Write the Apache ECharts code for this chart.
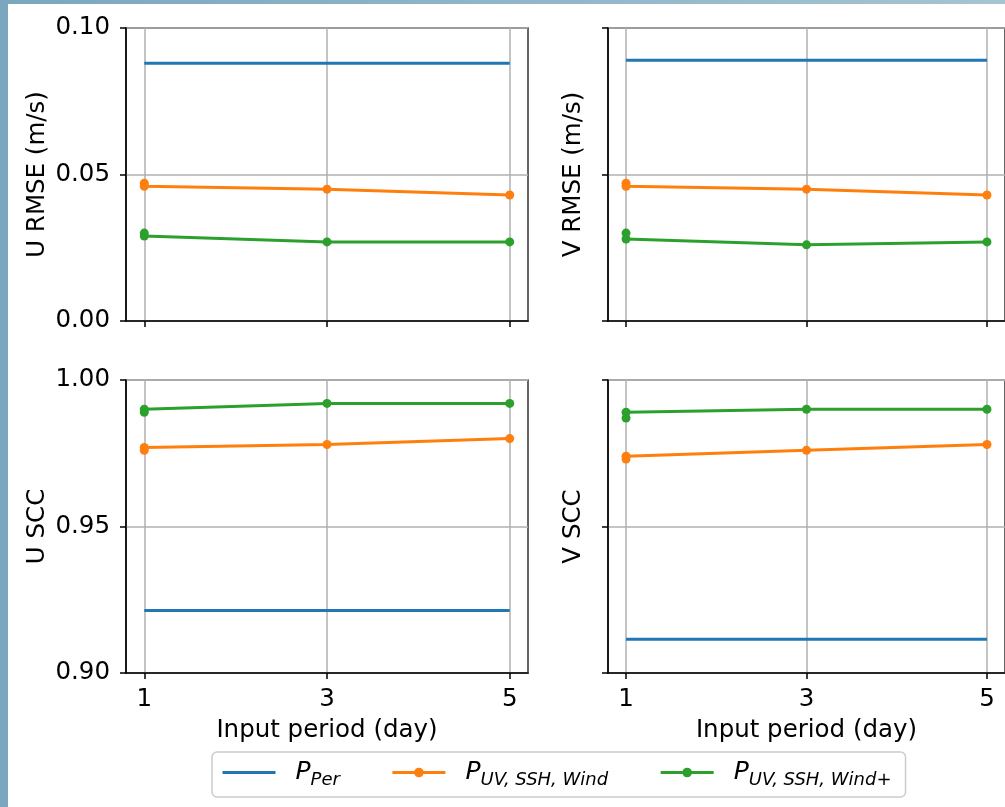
<!DOCTYPE html>
<html>
<head>
<meta charset="utf-8">
<script src="https://cdn.jsdelivr.net/npm/echarts@6/dist/echarts.min.js"></script>
<style>
html, body { margin: 0; padding: 0; background: #ffffff; }
#chart { width: 1005px; height: 807px; }
</style>
</head>
<body>
<div id="chart"></div>
<script>
// ---- data ----
const inputDays = [1, 3, 5];
const xTickLabels = [1, 3, 5];
const rmseTicks = [0.00, 0.05, 0.10];
const sccTicks = [0.90, 0.95, 1.00];

const seriesNames = ['P_Per', 'P_UV,SSH,Wind', 'P_UV,SSH,Wind+'];

// U RMSE (m/s)
const uRmsePer = [0.088, 0.088, 0.088];
const uRmseUV = [0.046, 0.045, 0.043];
const uRmseUVExtraAt1 = 0.047;
const uRmseUVW = [0.029, 0.027, 0.027];
const uRmseUVWExtraAt1 = 0.030;

// V RMSE (m/s)
const vRmsePer = [0.089, 0.089, 0.089];
const vRmseUV = [0.046, 0.045, 0.043];
const vRmseUVExtraAt1 = 0.047;
const vRmseUVW = [0.028, 0.026, 0.027];
const vRmseUVWExtraAt1 = 0.030;

// U SCC
const uSccPer = [0.9213, 0.9213, 0.9213];
const uSccUV = [0.977, 0.978, 0.980];
const uSccUVExtraAt1 = 0.976;
const uSccUVW = [0.990, 0.992, 0.992];
const uSccUVWExtraAt1 = 0.989;

// V SCC
const vSccPer = [0.9115, 0.9115, 0.9115];
const vSccUV = [0.974, 0.976, 0.978];
const vSccUVExtraAt1 = 0.973;
const vSccUVW = [0.989, 0.990, 0.990];
const vSccUVWExtraAt1 = 0.987;

// ---- styling ----
const FONT = 'DejaVu Sans';
const FS = 24.5;
const COLORS = ['#1f77b4', '#ff7f0e', '#2ca02c'];

const chart = echarts.init(document.getElementById('chart'), null, { renderer: 'canvas' });

const grids = [
  { left: 126, top: 28, width: 402, height: 293, show: true, borderColor: '#333', borderWidth: 1.5 },
  { left: 608, top: 28, width: 402, height: 293, show: true, borderColor: '#333', borderWidth: 1.5 },
  { left: 126, top: 380, width: 402, height: 293, show: true, borderColor: '#333', borderWidth: 1.5 },
  { left: 608, top: 380, width: 402, height: 293, show: true, borderColor: '#333', borderWidth: 1.5 }
];

function xAxisFor(gi, showLabels) {
  return {
    type: 'value', gridIndex: gi, min: 0.8, max: 5.2,
    axisLine: { show: true, onZero: false, lineStyle: { color: '#000', width: 1.5 } },
    axisTick: { show: true, inside: false, length: 6, lineStyle: { color: '#000', width: 1.5 }, customValues: xTickLabels },
    axisLabel: { show: showLabels, customValues: xTickLabels, margin: 14, fontFamily: FONT, fontSize: FS, color: '#000', lineHeight: FS,
      formatter: v => String(v) },
    splitLine: { show: true, lineStyle: { color: '#b0b0b0', width: 1.5 } },
    name: showLabels ? 'Input period (day)' : '',
    nameLocation: 'middle', nameGap: 45,
    nameTextStyle: { fontFamily: FONT, fontSize: FS, color: '#000', lineHeight: FS }
  };
}

function yAxisFor(gi, ticks, name, showLabels, gap) {
  return {
    type: 'value', gridIndex: gi, min: ticks[0], max: ticks[2], interval: ticks[1] - ticks[0],
    axisLine: { show: true, lineStyle: { color: '#000', width: 1.5 } },
    axisTick: { show: true, inside: false, length: 6, lineStyle: { color: '#000', width: 1.5 } },
    axisLabel: { show: showLabels, margin: 16, fontFamily: FONT, fontSize: FS, color: '#000',
      formatter: v => v.toFixed(2) },
    splitLine: { show: true, lineStyle: { color: '#b0b0b0', width: 1.5 } },
    name: name, nameLocation: 'middle', nameGap: gap, nameRotate: 90,
    nameTextStyle: { fontFamily: FONT, fontSize: FS, color: '#000', lineHeight: FS }
  };
}

function pairs(vals, extra) {
  const arr = inputDays.map((d, i) => [d, vals[i]]);
  if (extra !== undefined) arr.unshift([inputDays[0], extra]);
  return arr;
}

function panelSeries(gi, per, uv, uvExtra, uvw, uvwExtra) {
  return [
    { name: seriesNames[0], type: 'line', xAxisIndex: gi, yAxisIndex: gi, data: pairs(per),
      symbol: 'none', lineStyle: { width: 3, color: COLORS[0] }, itemStyle: { color: COLORS[0] }, z: 3, animation: false },
    { name: seriesNames[1], type: 'line', xAxisIndex: gi, yAxisIndex: gi, data: pairs(uv, uvExtra),
      symbol: 'circle', symbolSize: 9, showAllSymbol: true,
      lineStyle: { width: 3, color: COLORS[1] }, itemStyle: { color: COLORS[1] }, z: 4, animation: false },
    { name: seriesNames[2], type: 'line', xAxisIndex: gi, yAxisIndex: gi, data: pairs(uvw, uvwExtra),
      symbol: 'circle', symbolSize: 9, showAllSymbol: true,
      lineStyle: { width: 3, color: COLORS[2] }, itemStyle: { color: COLORS[2] }, z: 5, animation: false }
  ];
}

const legendRich = {
  p: { fontFamily: FONT, fontStyle: 'italic', fontSize: 25, color: '#000', padding: [0, 0, 0, 15] },
  s: { fontFamily: FONT, fontStyle: 'italic', fontSize: 18, color: '#000', padding: [15, 0, 0, 0] }
};

const option = {
  backgroundColor: '#ffffff',
  animation: false,
  graphic: [
    { type: 'rect', left: 0, top: 0, shape: { width: 8, height: 807 }, style: { fill: '#7aa7bf' }, z: 100 },
    { type: 'rect', left: 0, top: 0, shape: { width: 1005, height: 4 },
      style: { fill: new echarts.graphic.LinearGradient(0, 0, 1, 0, [{ offset: 0, color: '#7aa7bf' }, { offset: 1, color: '#a6c4d2' }]) }, z: 100 }
  ],
  grid: grids,
  xAxis: [xAxisFor(0, false), xAxisFor(1, false), xAxisFor(2, true), xAxisFor(3, true)],
  yAxis: [
    yAxisFor(0, rmseTicks, 'U RMSE (m/s)', true, 76),
    yAxisFor(1, rmseTicks, 'V RMSE (m/s)', false, 22),
    yAxisFor(2, sccTicks, 'U SCC', true, 76),
    yAxisFor(3, sccTicks, 'V SCC', false, 22)
  ],
  legend: {
    data: [
      { name: seriesNames[0], itemStyle: { opacity: 0 } },
      { name: seriesNames[1] },
      { name: seriesNames[2] }
    ],
    left: 212, top: 752,
    itemWidth: 53, itemHeight: 12, itemGap: 51,
    padding: [8, 14, 8, 9],
    lineStyle: { width: 3 },
    borderColor: '#cccccc', borderWidth: 1.5, borderRadius: 5,
    backgroundColor: 'rgba(255,255,255,0.8)',
    formatter: function (name) {
      const sub = name.replace('P_', '').replace(/,/g, ', ');
      return '{p|P}{s|' + sub + '}';
    },
    textStyle: { rich: legendRich, color: '#000' }
  },
  series: [].concat(
    panelSeries(0, uRmsePer, uRmseUV, uRmseUVExtraAt1, uRmseUVW, uRmseUVWExtraAt1),
    panelSeries(1, vRmsePer, vRmseUV, vRmseUVExtraAt1, vRmseUVW, vRmseUVWExtraAt1),
    panelSeries(2, uSccPer, uSccUV, uSccUVExtraAt1, uSccUVW, uSccUVWExtraAt1),
    panelSeries(3, vSccPer, vSccUV, vSccUVExtraAt1, vSccUVW, vSccUVWExtraAt1)
  )
};

chart.setOption(option);
</script>
</body>
</html>
